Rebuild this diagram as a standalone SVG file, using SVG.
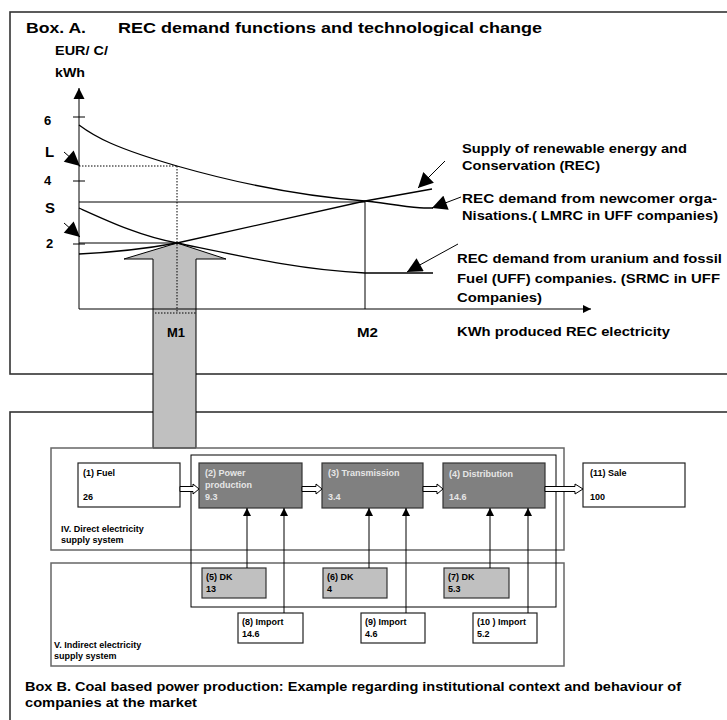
<svg xmlns="http://www.w3.org/2000/svg" width="727" height="720" viewBox="0 0 727 720">
  <style>
    text { font-family: "Liberation Sans", Arial, sans-serif; font-weight: bold; fill: #000; }
    .ttl { font-size: 15px; }
    .lbl { font-size: 13px; }
    .cap { font-size: 12.5px; }
    .ax { font-size: 12px; }
    .num { font-size: 13px; }
    .big { font-size: 15px; }
    .sm { font-size: 9px; }
    .inv { fill: #e6e6e6; }
    .frame { fill: none; stroke: #333; stroke-width: 1.6; }
    .sys { fill: none; stroke: #666; stroke-width: 1.5; }
    .inner { fill: none; stroke: #000; stroke-width: 1; }
    .curve { fill: none; stroke: #000; stroke-width: 1.3; }
    .dot { fill: none; stroke: #000; stroke-width: 1; stroke-dasharray: 1.5 1.5; }
    .wbox { fill: #fff; stroke: #222; stroke-width: 1.2; }
    .dbox { fill: #808080; stroke: #333; stroke-width: 1.2; }
    .gbox { fill: #c0c0c0; stroke: #333; stroke-width: 1.2; }
    .link { fill: none; stroke: #000; stroke-width: 1; }
    .hollow { fill: #fff; stroke: #000; stroke-width: 1; }
  </style>
  <defs>
    <marker id="head" viewBox="0 0 10 10" refX="10" refY="5" markerWidth="10" markerHeight="8" markerUnits="userSpaceOnUse" orient="auto">
      <path d="M0,0 L10,5 L0,10 Z" fill="#000"/>
    </marker>
    <marker id="axhead" viewBox="0 0 10 10" refX="10" refY="5" markerWidth="11" markerHeight="13" markerUnits="userSpaceOnUse" orient="auto">
      <path d="M0,0 L10,5 L0,10 Z" fill="#000"/>
    </marker>
    <marker id="bighead" viewBox="0 0 10 10" refX="10" refY="5" markerWidth="16" markerHeight="15" markerUnits="userSpaceOnUse" orient="auto">
      <path d="M0,0 L10,5 L0,10 Z" fill="#000"/>
    </marker>
  </defs>

  <rect width="727" height="720" fill="#fff"/>

  <!-- Box A frame -->
  <rect class="frame" x="10" y="12" width="730" height="362"/>
  <!-- Box B frame -->
  <rect class="frame" x="10" y="412" width="730" height="330"/>

  <!-- Box A heading -->
  <text class="ttl" x="26" y="33" textLength="60" lengthAdjust="spacingAndGlyphs">Box. A.</text>
  <text class="ttl" x="118" y="33" textLength="424" lengthAdjust="spacingAndGlyphs">REC demand functions and technological change</text>

  <!-- Broad arrow linking market outcome to supply system -->
  <g id="transfer-arrow">
    <polygon points="177,243 226,259 196,259 196,448 153,448 153,259 124,259" fill="#c0c0c0" stroke="#000" stroke-width="1"/>
  </g>

  <!-- Chart axes -->
  <g id="axes">
    <line class="link" x1="79" y1="309" x2="79" y2="88" stroke-width="1.3" marker-end="url(#axhead)"/>
    <line class="link" x1="79" y1="309" x2="591" y2="309" stroke-width="1.3" marker-end="url(#head)"/>
    <line class="link" x1="73" y1="117" x2="85" y2="117"/>
    <line class="link" x1="73" y1="181" x2="85" y2="181"/>
    <line class="link" x1="73" y1="244" x2="85" y2="244"/>
    <text class="ax" x="55" y="55" textLength="53" lengthAdjust="spacingAndGlyphs">EUR/ C/</text>
    <text class="ax" x="55" y="77" textLength="30" lengthAdjust="spacingAndGlyphs">kWh</text>
    <text class="num" x="44" y="125">6</text>
    <text class="big" x="45" y="157">L</text>
    <text class="num" x="44" y="185">4</text>
    <text class="big" x="45" y="213">S</text>
    <text class="num" x="46" y="248">2</text>
    <text class="ax" x="167" y="337" textLength="18" lengthAdjust="spacingAndGlyphs">M1</text>
    <text class="ax" x="357" y="337" textLength="21" lengthAdjust="spacingAndGlyphs">M2</text>
    <text class="ax" x="457" y="336" textLength="213" lengthAdjust="spacingAndGlyphs">KWh produced REC electricity</text>
  </g>

  <!-- Demand and supply curves -->
  <g id="curves">
    <path class="curve" d="M79,125 C95,137 115,148 177,166 C240,184 300,196 365,201 C395,204 410,208 424,208 L433,208"/>
    <path class="curve" d="M79,208 C110,222 140,236 177,243 C240,256 300,270 365,273 L433,273"/>
    <path class="curve" d="M79,254 C120,252 150,248 177,243 L365,201 L432,189"/>
    <line class="link" x1="79" y1="202" x2="365" y2="202" stroke-width="1.3"/>
    <line class="link" x1="79" y1="243" x2="177" y2="243" stroke-width="1.3"/>
    <line class="link" x1="365" y1="202" x2="365" y2="309" stroke-width="1.3"/>
    <line class="dot" x1="79" y1="166" x2="177" y2="166"/>
    <line class="dot" x1="177" y1="166" x2="177" y2="313"/>
    <line class="dot" x1="155" y1="313" x2="197" y2="313"/>
    <!-- price pointers on the vertical axis -->
    <line class="link" x1="64" y1="152" x2="80" y2="166" marker-end="url(#bighead)"/>
    <line class="link" x1="64" y1="223" x2="80" y2="237" marker-end="url(#bighead)"/>
  </g>

  <!-- Curve annotations -->
  <g id="annotations">
    <line class="link" x1="445" y1="161" x2="418" y2="188" marker-end="url(#bighead)"/>
    <line class="link" x1="461" y1="197" x2="432" y2="208" marker-end="url(#bighead)"/>
    <line class="link" x1="458" y1="244" x2="407" y2="272" marker-end="url(#bighead)"/>
    <text class="lbl" x="462" y="153" textLength="225" lengthAdjust="spacingAndGlyphs">Supply of renewable energy and</text>
    <text class="lbl" x="462" y="170" textLength="138" lengthAdjust="spacingAndGlyphs">Conservation (REC)</text>
    <text class="lbl" x="462" y="203" textLength="255" lengthAdjust="spacingAndGlyphs">REC  demand from newcomer orga-</text>
    <text class="lbl" x="462" y="220" textLength="256" lengthAdjust="spacingAndGlyphs">Nisations.( LMRC in UFF companies)</text>
    <text class="lbl" x="457" y="263" textLength="265" lengthAdjust="spacingAndGlyphs">REC demand from uranium and fossil</text>
    <text class="lbl" x="457" y="283" textLength="263" lengthAdjust="spacingAndGlyphs">Fuel (UFF) companies. (SRMC in UFF</text>
    <text class="lbl" x="457" y="302" textLength="85" lengthAdjust="spacingAndGlyphs">Companies)</text>
  </g>

  <!-- Supply system containers -->
  <g id="direct-system">
    <rect class="sys" x="51" y="448" width="513" height="102"/>
    <text class="sm" x="61" y="532">IV.  Direct electricity</text>
    <text class="sm" x="61" y="543">supply system</text>
  </g>
  <g id="indirect-system">
    <rect class="sys" x="51" y="563" width="513" height="103"/>
    <text class="sm" x="54" y="648">V. Indirect   electricity</text>
    <text class="sm" x="54" y="659">supply system</text>
  </g>
  <g id="chain">
    <rect class="inner" x="191" y="455" width="365" height="152"/>
  </g>

  <!-- Nodes -->
  <g id="fuel">
    <rect class="wbox" x="78" y="463" width="102" height="44"/>
    <text class="sm" x="83" y="476">(1)  Fuel</text>
    <text class="sm" x="83" y="500">26</text>
  </g>
  <g id="power">
    <rect class="dbox" x="199" y="463" width="103" height="45"/>
    <text class="sm inv" x="205" y="476">(2) Power</text>
    <text class="sm inv" x="205" y="488">production</text>
    <text class="sm inv" x="205" y="500">9.3</text>
  </g>
  <g id="transmission">
    <rect class="dbox" x="322" y="463" width="101" height="45"/>
    <text class="sm inv" x="328" y="476">(3) Transmission</text>
    <text class="sm inv" x="328" y="500">3.4</text>
  </g>
  <g id="distribution">
    <rect class="dbox" x="443" y="463" width="102" height="45"/>
    <text class="sm inv" x="449" y="477">(4) Distribution</text>
    <text class="sm inv" x="449" y="500">14.6</text>
  </g>
  <g id="sale">
    <rect class="wbox" x="583" y="463" width="102" height="44"/>
    <text class="sm" x="590" y="476">(11) Sale</text>
    <text class="sm" x="590" y="500">100</text>
  </g>
  <g id="dk5">
    <rect class="gbox" x="202" y="568" width="64" height="30"/>
    <text class="sm" x="206" y="580">(5) DK</text>
    <text class="sm" x="206" y="592">13</text>
  </g>
  <g id="dk6">
    <rect class="gbox" x="323" y="568" width="64" height="30"/>
    <text class="sm" x="327" y="580">(6) DK</text>
    <text class="sm" x="327" y="592">4</text>
  </g>
  <g id="dk7">
    <rect class="gbox" x="444" y="568" width="65" height="30"/>
    <text class="sm" x="448" y="580">(7) DK</text>
    <text class="sm" x="448" y="592">5.3</text>
  </g>
  <g id="import8">
    <rect class="wbox" x="238" y="613" width="65" height="30"/>
    <text class="sm" x="242" y="625">(8)  Import</text>
    <text class="sm" x="242" y="637">14.6</text>
  </g>
  <g id="import9">
    <rect class="wbox" x="361" y="613" width="64" height="30"/>
    <text class="sm" x="365" y="625">(9)  Import</text>
    <text class="sm" x="365" y="637">4.6</text>
  </g>
  <g id="import10">
    <rect class="wbox" x="473" y="613" width="64" height="30"/>
    <text class="sm" x="477" y="625">(10 )  Import</text>
    <text class="sm" x="477" y="637">5.2</text>
  </g>

  <!-- Connectors -->
  <g id="connectors">
    <!-- block arrows along the supply chain -->
    <path class="hollow" d="M180,486.5 H193 V484 L199,489 L193,494 V491.5 H180 Z"/>
    <path class="hollow" d="M302,486.5 H316 V484 L322,489 L316,494 V491.5 H302 Z"/>
    <path class="hollow" d="M423,486.5 H437 V484 L443,489 L437,494 V491.5 H423 Z"/>
    <path class="hollow" d="M545,486.5 H575 V484 L583,489 L575,494 V491.5 H545 Z"/>
    <!-- domestic and import flows -->
    <line class="link" x1="247" y1="568" x2="247" y2="508" marker-end="url(#head)"/>
    <line class="link" x1="284" y1="613" x2="284" y2="508" marker-end="url(#head)"/>
    <line class="link" x1="369" y1="568" x2="369" y2="508" marker-end="url(#head)"/>
    <line class="link" x1="406" y1="613" x2="406" y2="508" marker-end="url(#head)"/>
    <line class="link" x1="490" y1="568" x2="490" y2="508" marker-end="url(#head)"/>
    <line class="link" x1="528" y1="613" x2="528" y2="508" marker-end="url(#head)"/>
  </g>

  <!-- Box B caption -->
  <text class="cap" x="25" y="691" textLength="656" lengthAdjust="spacingAndGlyphs">Box B. Coal based power production: Example regarding institutional context and behaviour of</text>
  <text class="cap" x="25" y="707" textLength="172" lengthAdjust="spacingAndGlyphs">companies at the market</text>
</svg>
